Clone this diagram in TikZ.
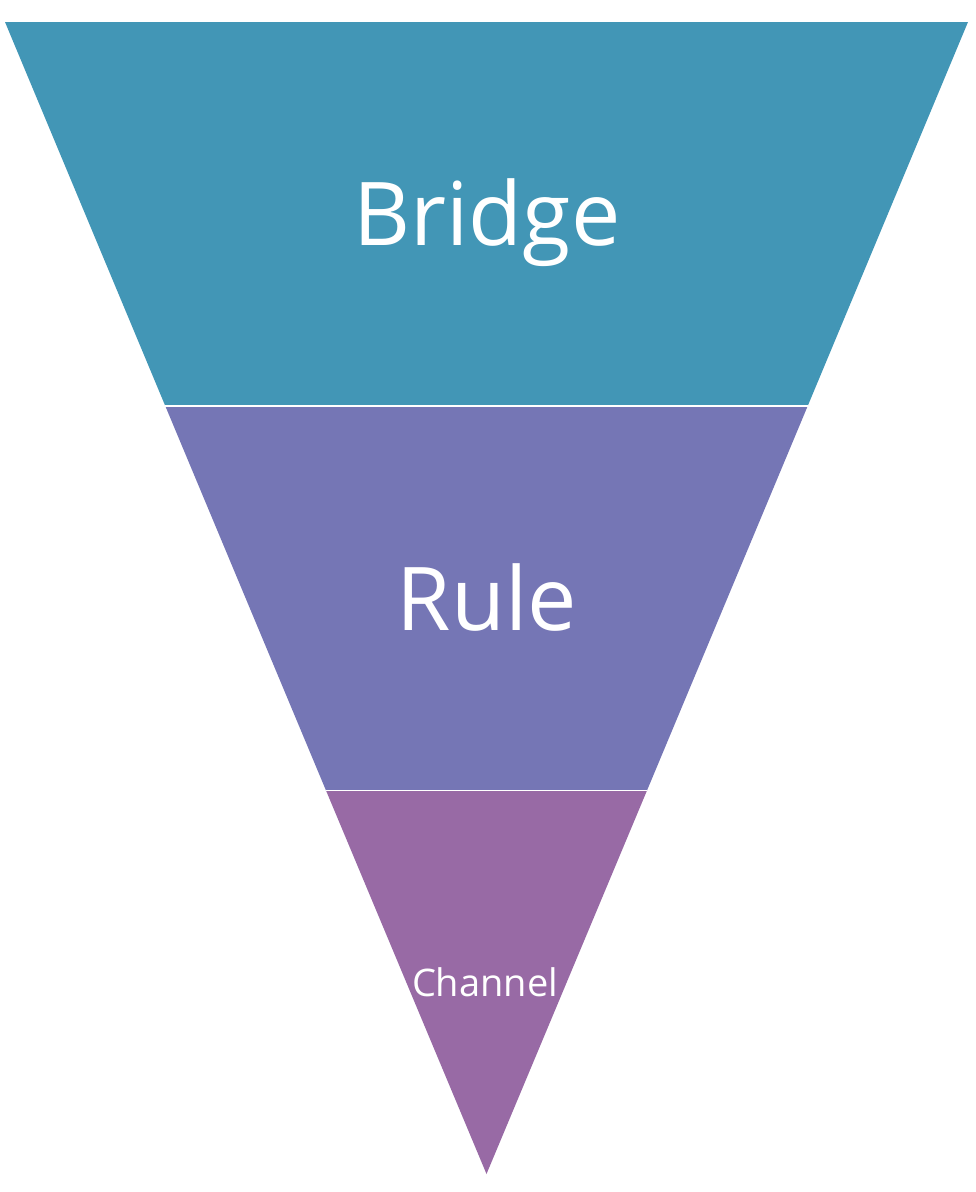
\documentclass[tikz,border=0pt]{standalone}
\usepackage{fontspec}
\setmainfont{Open Sans}
\definecolor{bandA}{RGB}{66,150,182}
\definecolor{bandB}{RGB}{117,118,181}
\definecolor{bandC}{RGB}{152,106,165}
\begin{document}
\begin{tikzpicture}[x=1pt,y=-1pt,
  label/.style={text=white,anchor=base,inner sep=0pt},
  sep/.style={draw=white,line width=1.6pt}]
\useasboundingbox (0,0) rectangle (976,1192);
\coordinate (TL) at (5,22);
\coordinate (TR) at (968,22);
\coordinate (L1) at (165.3,406);
\coordinate (R1) at (807.7,406);
\coordinate (L2) at (326,790.5);
\coordinate (R2) at (647,790.5);
\coordinate (A) at (486.5,1174);
\fill[bandA] (TL) -- (TR) -- (R1) -- (L1) -- cycle;
\fill[bandB] (L1) -- (R1) -- (R2) -- (L2) -- cycle;
\fill[bandC] (L2) -- (R2) -- (A) -- cycle;
\draw[sep] (L1) -- (R1);
\draw[sep] (L2) -- (R2);
\node[label,font=\fontsize{88}{88}\selectfont] (bridge) at (487,245) {Bridge};
\node[label,font=\fontsize{88}{88}\selectfont] (rule) at (487,630) {Rule};
\node[label,font=\fontsize{38}{38}\selectfont] (channel) at (485,996) {Channel};
\end{tikzpicture}
\end{document}
